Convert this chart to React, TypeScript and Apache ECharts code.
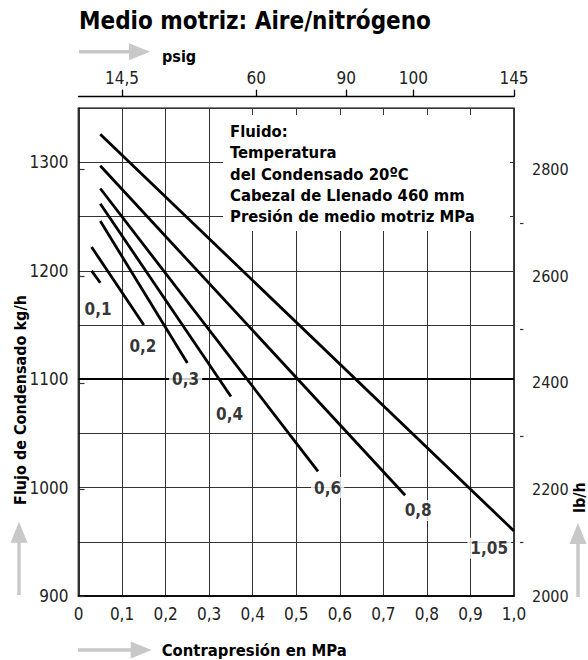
import React, { useEffect, useRef } from "react";
import * as echarts from "echarts";

// ---- data ----
const curve01 = [[0.03, 1200], [0.05, 1189]];
const curve02 = [[0.03, 1222], [0.15, 1150]];
const curve03 = [[0.05, 1246], [0.25, 1115]];
const curve04 = [[0.05, 1262], [0.35, 1084]];
const curve06 = [[0.05, 1276], [0.55, 1015]];
const curve08 = [[0.05, 1297], [0.75, 993]];
const curve105 = [[0.05, 1326], [1.0, 960]];
const curves = [curve01, curve02, curve03, curve04, curve06, curve08, curve105];

const curveNames = ["0,1", "0,2", "0,3", "0,4", "0,6", "0,8", "1,05"];
const labelX = [0.045, 0.148, 0.246, 0.347, 0.572, 0.78, 0.943];
const labelY = [1165, 1131, 1100, 1068, 1000, 979, 944];

const psigLabels = ["14,5", "60", "90", "100", "145"];
const psigAtMPa = [0.1, 0.408, 0.615, 0.769, 1.0];

const lbMajor = [2000, 2200, 2400, 2600, 2800];
const lbMinor = [2100, 2300, 2500, 2700];

const noteLines = [
  "Fluido:",
  "Temperatura",
  "del Condensado 20ºC",
  "Cabezal de Llenado 460 mm",
  "Presión de medio motriz MPa",
];

const BOLD = "'DejaVu Sans Condensed', 'DejaVu Sans', sans-serif";
const NARROW = "'Liberation Sans Narrow', 'DejaVu Sans Condensed', sans-serif";
const ARROW = "#c8c8c8";

function hArrow(x0: number, x1: number, y: number) {
  const h = 21, w = 8.5, s = 1.7;
  return {
    type: "polygon",
    z: 1,
    silent: true,
    shape: {
      points: [
        [x0, y - s], [x1 - h, y - s], [x1 - h, y - w], [x1, y],
        [x1 - h, y + w], [x1 - h, y + s], [x0, y + s],
      ],
    },
    style: { fill: ARROW },
  };
}
function vArrow(x: number, yTail: number, yTip: number) {
  const h = 21, w = 8.5, s = 1.7;
  return {
    type: "polygon",
    z: 1,
    silent: true,
    shape: {
      points: [
        [x - s, yTail], [x - s, yTip + h], [x - w, yTip + h], [x, yTip],
        [x + w, yTip + h], [x + s, yTip + h], [x + s, yTail],
      ],
    },
    style: { fill: ARROW },
  };
}

export default function App() {
  const ref = useRef<HTMLDivElement>(null);
  useEffect(() => {
    if (!ref.current) return;
    const chart = echarts.init(ref.current, undefined, { renderer: "svg" });
    const tickFont = { fontFamily: NARROW, fontSize: 17, color: "#222" };

    const lineSeries = curves.map((c, i) => ({
      type: "line",
      name: curveNames[i],
      data: c,
      xAxisIndex: 0,
      yAxisIndex: 0,
      showSymbol: false,
      symbol: "none",
      z: 3,
      lineStyle: { color: "#000", width: 2.8 },
      ...(i === 0
        ? {
            markLine: {
              silent: true,
              symbol: "none",
              label: { show: false },
              lineStyle: { color: "#000", width: 2, type: "solid" },
              data: [{ yAxis: 1100 }],
            },
          }
        : {}),
    }));

    const option: any = {
      animation: false,
      grid: {
        left: 78.5,
        right: 74,
        top: 108.3,
        bottom: 64,
        show: true,
        borderColor: "#000",
        borderWidth: 1.5,
        backgroundColor: "transparent",
        outerBoundsMode: "none",
      },
      xAxis: [
        {
          type: "value",
          position: "bottom",
          min: 0,
          max: 1,
          interval: 0.1,
          axisLine: { show: true, lineStyle: { color: "#000", width: 1.5 } },
          axisTick: { show: false },
          axisLabel: {
            ...tickFont,
            margin: 9,
            formatter: (v: number) => (v === 0 ? "0" : v.toFixed(1).replace(".", ",")),
          },
          splitLine: { show: true, lineStyle: { color: "#333", width: 1 } },
        },
        {
          type: "value",
          position: "top",
          offset: 11.6,
          min: 0,
          max: 1,
          axisLine: { show: true, onZero: false, lineStyle: { color: "#000", width: 1.3 } },
          axisTick: { show: true, length: 7, customValues: psigAtMPa, lineStyle: { color: "#000", width: 1.3 } },
          axisLabel: {
            ...tickFont,
            margin: 10,
            customValues: psigAtMPa,
            formatter: (v: number) => {
              const i = psigAtMPa.findIndex((p) => Math.abs(p - v) < 1e-6);
              return i >= 0 ? psigLabels[i] : "";
            },
          },
          splitLine: { show: false },
        },
      ],
      yAxis: [
        {
          type: "value",
          position: "left",
          min: 900,
          max: 1350,
          interval: 50,
          axisLine: { show: true, lineStyle: { color: "#000", width: 1.5 } },
          axisTick: { show: false },
          axisLabel: {
            ...tickFont,
            margin: 10,
            formatter: (v: number) => (v % 100 === 0 ? String(v) : ""),
          },
          splitLine: { show: true, lineStyle: { color: "#333", width: 1 } },
        },
        {
          type: "value",
          position: "right",
          offset: 6,
          min: 2000,
          max: 2915,
          axisLine: { show: true, lineStyle: { color: "#333", width: 1.3 } },
          axisTick: { show: true, length: 6, customValues: lbMajor, lineStyle: { color: "#333", width: 1.2 } },
          axisLabel: {
            ...tickFont,
            fontSize: 16,
            margin: 12,
            customValues: lbMajor,
            formatter: (v: number) => String(Math.round(v)),
          },
          splitLine: { show: false },
        },
        {
          type: "value",
          position: "right",
          offset: 6,
          min: 2000,
          max: 2915,
          axisLine: { show: false },
          axisTick: { show: true, length: 3.5, customValues: lbMinor, lineStyle: { color: "#333", width: 1.2 } },
          axisLabel: { show: false },
          splitLine: { show: false },
        },
      ],
      series: [
        ...lineSeries,
        {
          type: "scatter",
          xAxisIndex: 0,
          yAxisIndex: 0,
          symbolSize: 0,
          z: 6,
          data: curveNames.map((n, i) => [labelX[i], labelY[i], n]),
          label: {
            show: true,
            position: "inside",
            formatter: (p: any) => p.value[2],
            fontFamily: BOLD,
            fontWeight: "bold",
            fontSize: 17,
            color: "#000",
            backgroundColor: "#fff",
            padding: [2, 3],
          },
        },
      ],
      graphic: [
        {
          type: "text",
          x: 79,
          y: 21,
          z: 1,
          style: {
            text: "Medio motriz: Aire/nitrógeno",
            fontFamily: BOLD,
            fontWeight: "bold",
            fontSize: 24,
            fill: "#000",
            verticalAlign: "middle",
          },
        },
        hArrow(79, 150, 51.7),
        {
          type: "text",
          x: 162,
          y: 56,
          z: 1,
          style: { text: "psig", fontFamily: BOLD, fontWeight: "bold", fontSize: 16, fill: "#000", verticalAlign: "middle" },
        },
        {
          type: "rect",
          z: 1,
          shape: { x: 223, y: 115, width: 287, height: 116 },
          style: { fill: "#fff" },
        },
        {
          type: "text",
          x: 230,
          y: 121,
          z: 1,
          style: {
            text: noteLines.join("\n"),
            fontFamily: BOLD,
            fontWeight: "bold",
            fontSize: 16.5,
            lineHeight: 21.3,
            fill: "#000",
            verticalAlign: "top",
          },
        },
        {
          type: "text",
          x: 20,
          y: 400,
          rotation: Math.PI / 2,
          z: 1,
          style: {
            text: "Flujo de Condensado kg/h",
            fontFamily: BOLD,
            fontWeight: "bold",
            fontSize: 16,
            fill: "#000",
            align: "center",
            verticalAlign: "middle",
          },
        },
        vArrow(19, 595, 521.7),
        {
          type: "text",
          x: 579.5,
          y: 497.5,
          rotation: Math.PI / 2,
          z: 1,
          style: {
            text: "lb/h",
            fontFamily: BOLD,
            fontWeight: "bold",
            fontSize: 16,
            fill: "#000",
            align: "center",
            verticalAlign: "middle",
          },
        },
        vArrow(578, 597, 523),
        hArrow(78, 151.7, 650),
        {
          type: "text",
          x: 161.7,
          y: 650,
          z: 1,
          style: {
            text: "Contrapresión en MPa",
            fontFamily: BOLD,
            fontWeight: "bold",
            fontSize: 16.5,
            fill: "#000",
            verticalAlign: "middle",
          },
        },
      ],
    };
    chart.setOption(option);
    return () => chart.dispose();
  }, []);
  return (
    <div
      ref={ref}
      style={{ position: "fixed", left: 0, top: 0, width: 588, height: 660, background: "#fff" }}
    />
  );
}
